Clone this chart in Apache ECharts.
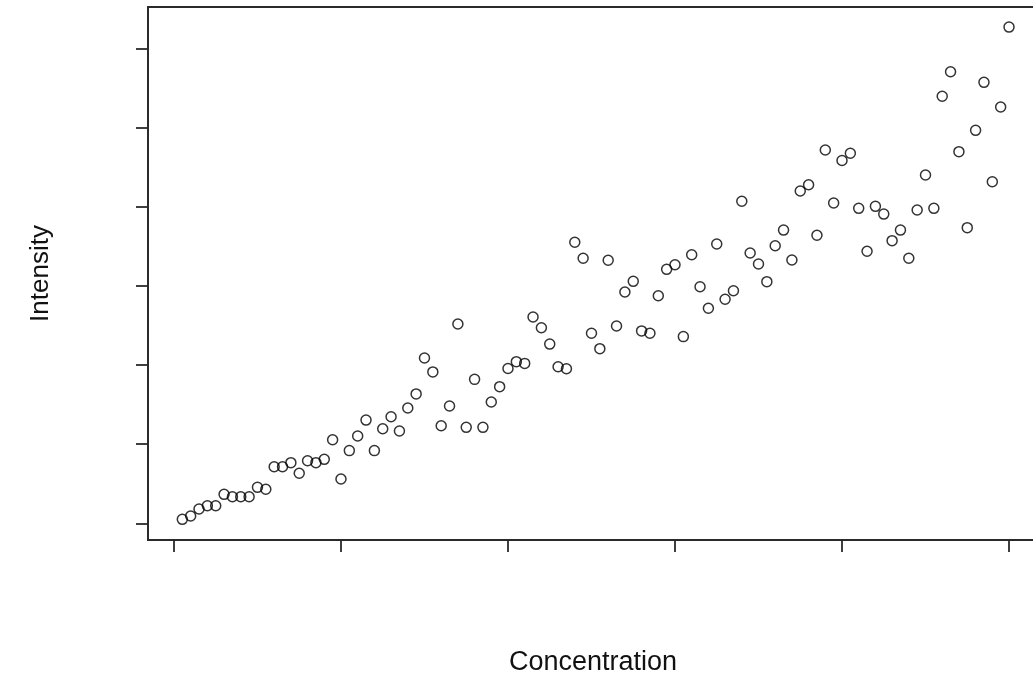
<!DOCTYPE html>
<html>
<head>
<meta charset="utf-8">
<script src="https://cdn.jsdelivr.net/npm/echarts@6/dist/echarts.min.js"></script>
<style>
html,body{margin:0;padding:0;background:#fff;}
#chart{width:1033px;height:673px;}
</style>
</head>
<body>
<div id="chart"></div>
<script>
var concentration = [1,2,3,4,5,6,7,8,9,10,11,12,13,14,15,16,17,18,19,20,21,22,23,24,25,26,27,28,29,30,31,32,33,34,35,36,37,38,39,40,41,42,43,44,45,46,47,48,49,50,51,52,53,54,55,56,57,58,59,60,61,62,63,64,65,66,67,68,69,70,71,72,73,74,75,76,77,78,79,80,81,82,83,84,85,86,87,88,89,90,91,92,93,94,95,96,97,98,99,100];
var intensity = [2.5,4.6,9.0,11.1,11.1,18.3,16.8,16.8,16.8,22.7,
21.5,35.7,35.7,38.3,31.6,39.5,38.3,40.4,52.8,28.0,
45.9,55.1,65.2,45.9,59.7,67.3,58.3,72.8,81.7,104.4,
95.6,61.6,74.1,125.9,60.6,90.9,60.6,76.6,86.3,97.8,
102.1,101.0,130.3,123.5,113.2,98.9,97.6,177.5,167.4,120.0,
110.3,166.1,124.6,146.1,152.8,121.5,120.0,143.7,160.4,163.3,
117.9,169.6,149.4,135.8,176.4,141.5,146.9,203.4,170.7,163.8,
152.6,175.3,185.2,166.3,209.9,213.8,181.9,235.8,202.3,229.1,
233.7,198.9,171.8,200.2,195.3,178.5,185.2,167.4,197.9,220.0,
198.9,269.7,285.2,234.7,186.7,248.2,278.5,215.7,262.9,313.4];
var xTicks = [0,20,40,60,80,100];
var yTicks = [0,50,100,150,200,250,300];
var xTitle = 'Concentration';
var yTitle = 'Intensity';

var pts = concentration.map(function(c,i){return [c,intensity[i]];});
var chart = echarts.init(document.getElementById('chart'), null, {renderer:'canvas'});
var lineStyle = {color:'#2a2a2a', width:1.8};
chart.setOption({
  animation:false,
  backgroundColor:'#ffffff',
  grid:{left:148, top:7, width:894, height:533, show:true, borderColor:'#2a2a2a', borderWidth:1.8,
        containLabel:false, outerBoundsMode:'none'},
  xAxis:{
    type:'value', min:-3.11, max:103.95,
    name:xTitle, nameLocation:'middle', nameGap:109,
    nameTextStyle:{fontFamily:'Liberation Sans, Arial, sans-serif', fontSize:27, color:'#111', padding:[0,4,0,0]},
    axisLine:{show:true, onZero:false, lineStyle:lineStyle},
    axisTick:{show:true, inside:false, length:12, customValues:xTicks, lineStyle:lineStyle},
    axisLabel:{show:false, customValues:xTicks},
    splitLine:{show:false}
  },
  yAxis:{
    type:'value', min:-10.55, max:326.08,
    name:yTitle, nameLocation:'middle', nameGap:94, nameRotate:90,
    nameTextStyle:{fontFamily:'Liberation Sans, Arial, sans-serif', fontSize:26, color:'#111'},
    axisLine:{show:true, onZero:false, lineStyle:lineStyle},
    axisTick:{show:true, inside:false, length:12, customValues:yTicks, lineStyle:lineStyle},
    axisLabel:{show:false, customValues:yTicks},
    splitLine:{show:false}
  },
  series:[{
    type:'scatter',
    data:pts,
    symbol:'circle',
    symbolSize:10,
    itemStyle:{color:'rgba(0,0,0,0)', borderColor:'#000', borderWidth:1.5},
    emphasis:{disabled:true}
  }]
});
</script>
</body>
</html>
